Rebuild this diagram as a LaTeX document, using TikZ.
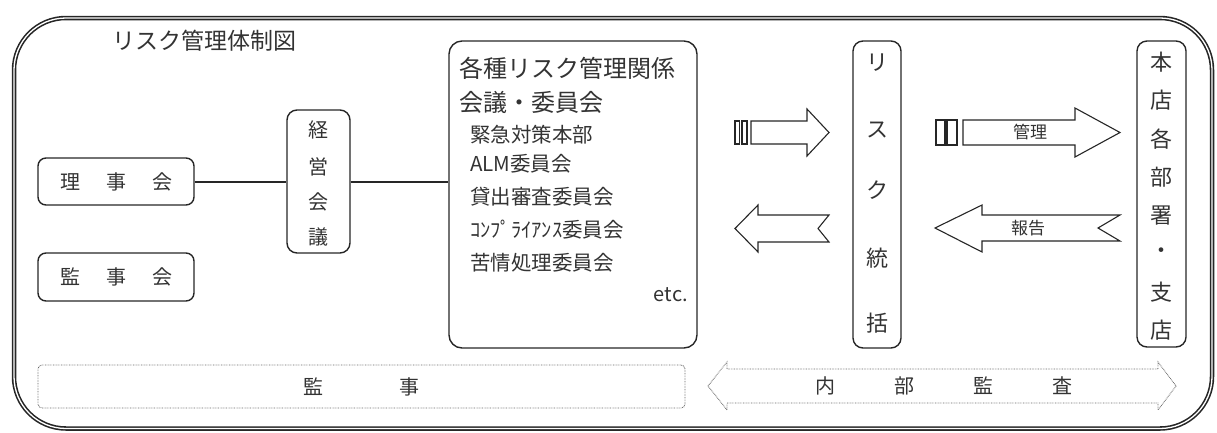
\documentclass[tikz,border=0pt]{standalone}
\usepackage{fontspec}
\setmainfont{Noto Sans CJK JP}
\begin{document}
\begin{tikzpicture}[x=1pt,y=-1pt,
  frame/.style={draw=black!85, line width=1.6pt, double=white, double distance=1.3pt, rounded corners=52pt},
  rbox/.style={draw=black!85, line width=1.4pt, rounded corners=10pt, inner sep=0pt, text=black!80},
  link/.style={draw=black!85, line width=2pt},
  blk/.style={draw=black!85, line width=1.1pt, fill=white, line join=miter},
  dots/.style={draw=black!60, line width=0.9pt, dash pattern=on 0.7pt off 0.9pt},
  txt/.style={text=black!80, inner sep=0pt},
  f20/.style={font=\fontsize{20}{20}\selectfont},
  f22/.style={font=\fontsize{22}{22}\selectfont},
  f24/.style={font=\fontsize{24}{24}\selectfont},
  f17/.style={font=\fontsize{17}{17}\selectfont},
  fs/.style={font=\fontsize{20.5}{20.5}\selectfont},
]
\useasboundingbox (0,0) rectangle (1217,432);
% outer frame
\draw[frame] (14,18) rectangle (1212,428.5);
\node[txt, font=\fontsize{23}{23}\selectfont] (title) at (204,41) {リスク管理体制図};

% left boxes
\node[rbox, f20, rounded corners=8pt, minimum width=156pt, minimum height=47pt] (riji) at (116,181.5) {理\hspace{26pt}事\hspace{26pt}会};
\node[rbox, f20, rounded corners=8pt, minimum width=156pt, minimum height=48pt] (kansakai) at (116,277) {監\hspace{26pt}事\hspace{26pt}会};

% keiei kaigi
\node[rbox, minimum width=63pt, minimum height=143pt] (keiei) at (318.5,181.5) {};
\foreach \c/\y in {経/130,営/167,会/202,議/237}
  \node[txt, f20] at (318.5,\y) {\c};

% big box
\node[rbox, rounded corners=13pt, minimum width=248pt, minimum height=307pt] (big) at (573,194.5) {};
\node[txt, f24, anchor=west] (b1) at (459,68) {各種リスク管理関係};
\node[txt, f24, anchor=west] (b2) at (459,102) {会議・委員会};
\node[txt, fs, anchor=west] (b3) at (470,135) {緊急対策本部};
\node[txt, fs, anchor=west] (b4) at (470,164) {ALM委員会};
\node[txt, fs, anchor=west] (b5) at (470,197) {貸出審査委員会};
\node[txt, fs, anchor=west] (b6) at (470,230) {ｺﾝﾌﾟﾗｲｱﾝｽ委員会};
\node[txt, fs, anchor=west] (b7) at (470,263) {苦情処理委員会};
\node[txt, f20, anchor=east] (etc) at (688,295) {etc.};

% connectors
\draw[link] (riji.east) -- (keiei.west);
\draw[link] (keiei.east) -- (keiei.east -| big.west);

% risk toukatsu
\node[rbox, minimum width=48pt, minimum height=307pt] (risk) at (877,194.5) {};
\foreach \c/\y in {リ/63,ス/130,ク/190,統/258,括/323}
  \node[txt, f22] at (877,\y) {\c};

% honten
\node[rbox, minimum width=49pt, minimum height=306pt] (honten) at (1161.5,194) {};
\foreach \c [count=\i from 0] in {本,店,各,部,署,・,支,店}
  \node[txt, f22] at (1161.5,{62+38.3*\i}) {\c};

% block arrows
\draw[blk] (735,121) rectangle (739.5,144);
\draw[blk] (742,121) rectangle (747,144);
\draw[blk] (751,121) -- (807,121) -- (807,109) -- (829,132.5) -- (807,156) -- (807,144) -- (751,144) -- cycle;

\draw[blk] (735,228.5) -- (758,205) -- (758,215) -- (829,215) -- (818,228.5) -- (829,242) -- (758,242) -- (758,252) -- cycle;

\draw[blk] (936,120) rectangle (945,145);
\draw[blk] (947,120) rectangle (957,145);
\draw[blk] (963,120) -- (1075,120) -- (1075,108) -- (1120,132.5) -- (1075,157) -- (1075,145) -- (963,145) -- cycle;
\node[txt, f17] (kanri) at (1030,132) {管理};

\draw[blk] (935,228) -- (982,205) -- (982,215) -- (1120,215) -- (1098,228) -- (1120,241) -- (982,241) -- (982,252) -- cycle;
\node[txt, f17] (houkoku) at (1028,228) {報告};

% bottom dotted
\node[dots, rounded corners=4pt, minimum width=647pt, minimum height=43pt, inner sep=0pt, text=black!80, f20] (kanji) at (361.5,386.5) {監\hspace{76pt}事};
\draw[dots] (708,386) -- (727,362) -- (727,369) -- (1158,369) -- (1158,362) -- (1176,386) -- (1158,410) -- (1158,403) -- (727,403) -- (727,410) -- cycle;
\node[txt, f20] (naibu) at (944,386) {内\hspace{59pt}部\hspace{59pt}監\hspace{59pt}査};
\end{tikzpicture}
\end{document}
